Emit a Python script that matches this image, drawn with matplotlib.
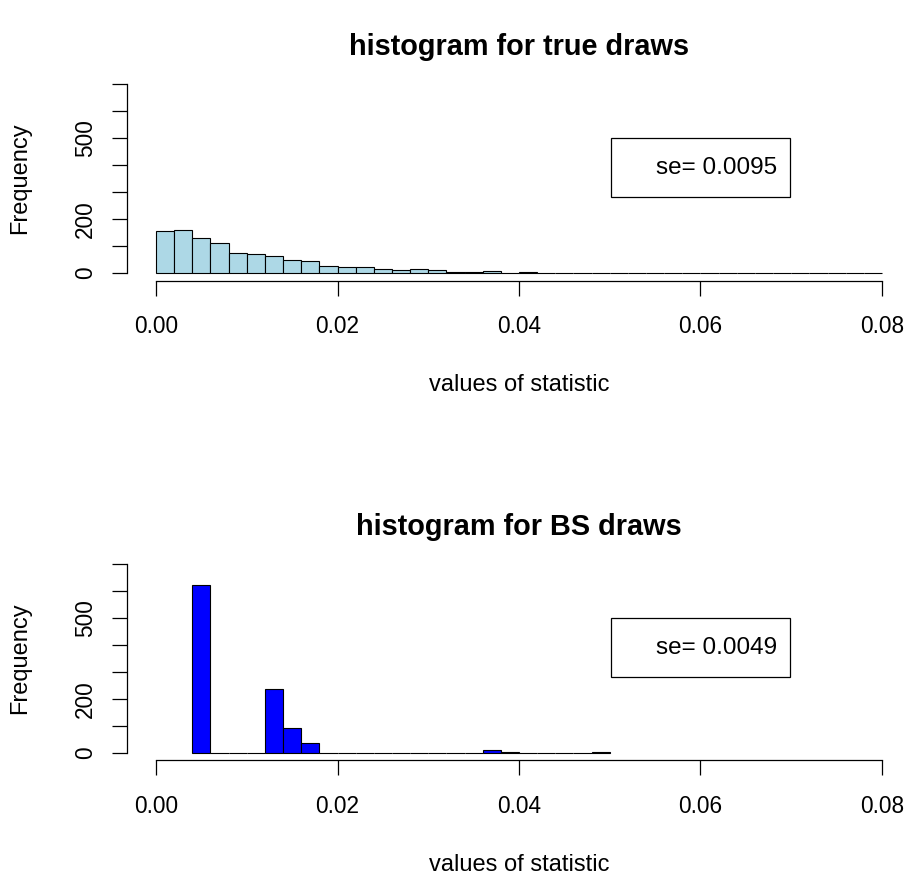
import numpy as np
import matplotlib
matplotlib.use('Agg')
import matplotlib.pyplot as plt
from matplotlib.patches import Rectangle

plt.rcParams['font.family'] = ['Liberation Sans', 'DejaVu Sans']

# bin width 0.002 in both panels
bin_width = 0.002

# true draws: bins from 0.000 to 0.080
true_start = 0.0
true_counts = [155, 161, 131, 112, 73, 69, 62, 50, 43, 26,
               24, 21, 14, 12, 14, 10, 5, 5, 7, 2,
               3, 0, 0, 1, 0, 1, 2, 1, 0, 0,
               0, 0, 0, 0, 0, 0, 1, 0, 0, 1]

# bootstrap draws: bins from 0.004 to 0.050
bs_start = 0.004
bs_counts = [622, 0, 0, 0, 236, 91, 37, 0, 0, 0,
             0, 0, 0, 0, 0, 0, 9, 2, 0, 0,
             0, 0, 2]

titles = ['histogram for true draws', 'histogram for BS draws']
se_labels = ['se= 0.0095', 'se= 0.0049']
colors = ['#ADD8E6', '#0000FF']
x_ticks = [0.00, 0.02, 0.04, 0.06, 0.08]
x_ticklabels = ['0.00', '0.02', '0.04', '0.06', '0.08']
y_ticks = [0, 100, 200, 300, 400, 500, 600, 700]
y_labelled = {0: '0', 200: '200', 500: '500'}

W, H = 910, 884
fig = plt.figure(figsize=(W / 100, H / 100), dpi=100)

# axes boxes in pixels: left, right, top, bottom
boxes = [(127, 911, 76.7, 280.6), (127, 911, 556.7, 760.3)]
data = [(true_start, true_counts), (bs_start, bs_counts)]


def makePanel(ax, start, counts, color, title, se_text):
    edges = start + bin_width * np.arange(len(counts))
    ax.bar(edges, counts, width=bin_width, align='edge', color=color,
           edgecolor='black', linewidth=0.8)
    ax.set_xlim(-0.0032, 0.0832)
    ax.set_ylim(-28, 728)

    for s in ['top', 'right']:
        ax.spines[s].set_visible(False)
    ax.spines['bottom'].set_bounds(0, 0.08)
    ax.spines['left'].set_bounds(0, 700)
    ax.spines['bottom'].set_linewidth(0.9)
    ax.spines['left'].set_linewidth(0.9)

    ax.set_xticks(x_ticks)
    ax.set_xticklabels(x_ticklabels)
    ax.set_yticks(y_ticks)
    ax.set_yticklabels([y_labelled.get(v, '') for v in y_ticks],
                       rotation=90, va='center')
    ax.tick_params(axis='both', length=10.8, width=0.9, labelsize=16.3)
    ax.tick_params(axis='x', pad=14)
    ax.tick_params(axis='y', pad=11)

    ax.set_xlabel('values of statistic', fontsize=17)
    ax.xaxis.set_label_coords(0.5, -0.512)
    ax.xaxis.label.set_va('center')
    ax.set_ylabel('Frequency', fontsize=17)
    ax.yaxis.set_label_coords(-0.136, 0.5)
    ax.yaxis.label.set_va('center')

    ax.text(0.5, 1.145, title, transform=ax.transAxes, ha='center',
            va='center', fontsize=20.8, fontweight='bold')

    ax.add_patch(Rectangle((0.617, 0.41), 0.229, 0.289, transform=ax.transAxes,
                           fill=False, edgecolor='black', linewidth=0.9,
                           clip_on=False))
    ax.text(0.829, 0.554, se_text, transform=ax.transAxes, ha='right',
            va='center', fontsize=17.5)


for (l, r, t, b), (start, counts), color, title, se_text in zip(
        boxes, data, colors, titles, se_labels):
    ax = fig.add_axes([l / W, 1 - b / H, (r - l) / W, (b - t) / H])
    ax.patch.set_alpha(0)
    makePanel(ax, start, counts, color, title, se_text)

fig.savefig('out.png', dpi=100)
